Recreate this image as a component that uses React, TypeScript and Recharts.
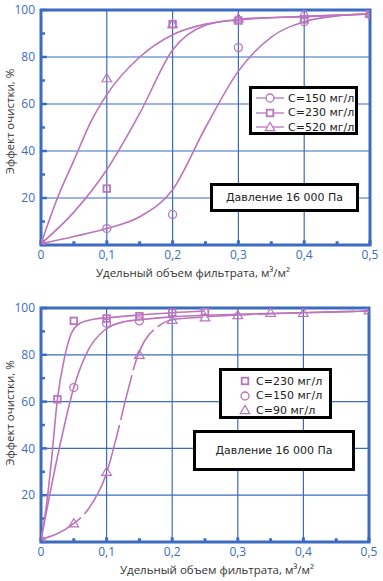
import React from 'react';
import { ComposedChart, Line, Scatter, XAxis, YAxis, CartesianGrid, ReferenceArea, ReferenceLine } from 'recharts';

const PURPLE = '#bb74bd';
const BLUE = '#3b6cc0';
const FONT = '"Open Sans", "DejaVu Sans", sans-serif';
const BOX_FONT = '"DejaVu Sans", sans-serif';

const xTicks = [0, 0.1, 0.2, 0.3, 0.4, 0.5];
const yTicks = [0, 20, 40, 60, 80, 100];
const xMinor = [0.05, 0.15, 0.25, 0.35, 0.45];
const yMinor = [10, 30, 50, 70, 90];

const xTitle = 'Удельный объем фильтрата, м³/м²';
const yTitle = 'Эффект очистки, %';
const pressureText = 'Давление 16 000 Па';

// ---- top panel ----
const topLegend = ['C=150 мг/л', 'C=230 мг/л', 'C=520 мг/л'];
const topC150Curve = [
  { x: 0, y: 0.5 }, { x: 0.05, y: 3.6 }, { x: 0.1, y: 7 }, { x: 0.15, y: 12 }, { x: 0.2, y: 23.5 },
  { x: 0.25, y: 50 }, { x: 0.3, y: 74 }, { x: 0.35, y: 88.5 }, { x: 0.4, y: 95 }, { x: 0.45, y: 97.5 }, { x: 0.5, y: 98.3 },
];
const topC230Curve = [
  { x: 0, y: 0.5 }, { x: 0.05, y: 14 }, { x: 0.1, y: 32 }, { x: 0.15, y: 56 }, { x: 0.2, y: 83 },
  { x: 0.25, y: 93.5 }, { x: 0.3, y: 96 }, { x: 0.35, y: 96.8 }, { x: 0.4, y: 97.3 }, { x: 0.5, y: 98.3 },
];
const topC520Curve = [
  { x: 0, y: 0.5 }, { x: 0.025, y: 20 }, { x: 0.05, y: 36 }, { x: 0.075, y: 52 }, { x: 0.1, y: 64 },
  { x: 0.15, y: 80 }, { x: 0.2, y: 89.5 }, { x: 0.25, y: 94 }, { x: 0.3, y: 95.8 }, { x: 0.4, y: 97.2 }, { x: 0.5, y: 98.3 },
];
const topC150Points = [
  { x: 0, y: 0.5 }, { x: 0.1, y: 7 }, { x: 0.2, y: 13 }, { x: 0.3, y: 84 }, { x: 0.4, y: 95 }, { x: 0.5, y: 98 },
];
const topC230Points = [
  { x: 0, y: 0.5 }, { x: 0.1, y: 24 }, { x: 0.2, y: 94 }, { x: 0.3, y: 95.5 }, { x: 0.4, y: 96 }, { x: 0.5, y: 98.5 },
];
const topC520Points = [
  { x: 0, y: 0.5 }, { x: 0.1, y: 71 }, { x: 0.2, y: 94 }, { x: 0.3, y: 96.5 }, { x: 0.4, y: 98.5 }, { x: 0.5, y: 98.5 },
];

// ---- bottom panel ----
const bottomLegend = ['C=230 мг/л', 'C=150 мг/л', 'C=90 мг/л'];
const botC230Curve = [
  { x: 0, y: 1 }, { x: 0.008, y: 15 }, { x: 0.016, y: 35 }, { x: 0.025, y: 61 }, { x: 0.036, y: 79 },
  { x: 0.046, y: 89 }, { x: 0.06, y: 93.6 }, { x: 0.08, y: 95.2 }, { x: 0.1, y: 95.8 }, { x: 0.15, y: 97 },
  { x: 0.2, y: 98 }, { x: 0.25, y: 98.7 },
];
const botC150Curve = [
  { x: 0, y: 1 }, { x: 0.016, y: 24 }, { x: 0.031, y: 44 }, { x: 0.05, y: 66 }, { x: 0.072, y: 82 },
  { x: 0.097, y: 90.6 }, { x: 0.128, y: 94.2 }, { x: 0.15, y: 95 }, { x: 0.2, y: 96.2 }, { x: 0.3, y: 97.3 },
  { x: 0.4, y: 98 }, { x: 0.5, y: 98.7 },
];
const botC90Curve = [
  { x: 0, y: 1 }, { x: 0.049, y: 7.7 }, { x: 0.072, y: 14 }, { x: 0.1, y: 29.5 }, { x: 0.117, y: 47 },
  { x: 0.13, y: 62 }, { x: 0.148, y: 80 }, { x: 0.158, y: 86 }, { x: 0.178, y: 92 }, { x: 0.2, y: 95 },
  { x: 0.25, y: 96.2 }, { x: 0.3, y: 97 }, { x: 0.4, y: 98 }, { x: 0.5, y: 98.7 },
];
const botC230Points = [
  { x: 0.025, y: 61 }, { x: 0.05, y: 94.5 }, { x: 0.1, y: 95.5 }, { x: 0.15, y: 96.5 }, { x: 0.2, y: 98 }, { x: 0.25, y: 98.5 },
];
const botC150Points = [
  { x: 0, y: 0.5 }, { x: 0.05, y: 66 }, { x: 0.1, y: 93.5 }, { x: 0.15, y: 94.5 },
];
const botC90Points = [
  { x: 0, y: 0.5 }, { x: 0.05, y: 8 }, { x: 0.1, y: 30 }, { x: 0.15, y: 80 }, { x: 0.2, y: 95 }, { x: 0.25, y: 96 },
  { x: 0.3, y: 97 }, { x: 0.35, y: 98 }, { x: 0.4, y: 98 }, { x: 0.5, y: 99 },
];

const fmtX = (v: number) => String(v).replace('.', ',');
const fmtY = (v: number) => (v === 0 ? '' : String(v));

const CircleShape = (p: any) => (
  <circle cx={p.cx} cy={p.cy} r={4} fill="none" stroke={PURPLE} strokeWidth={1.3} />
);
const SquareShape = (p: any) => (
  <rect x={p.cx - 3.3} y={p.cy - 3.3} width={6.6} height={6.6} fill="none" stroke={PURPLE} strokeWidth={1.8} />
);
const TriangleShape = (p: any) => (
  <path
    d={`M${p.cx},${p.cy - 4.6} L${p.cx + 4.8},${p.cy + 3.6} L${p.cx - 4.8},${p.cy + 3.6} Z`}
    fill="none"
    stroke={PURPLE}
    strokeWidth={1.2}
  />
);

const markerSvg = (kind: string, withLine: boolean) => {
  const c = withLine ? 14 : 6;
  return (
    <svg width={withLine ? 28 : 12} height={12} style={{ display: 'block', flex: 'none' }}>
      {withLine && <line x1={0} y1={6} x2={28} y2={6} stroke={PURPLE} strokeWidth={1.3} />}
      {kind === 'circle' && <circle cx={c} cy={6} r={4} fill="#fff" stroke={PURPLE} strokeWidth={1.3} />}
      {kind === 'square' && (
        <rect x={c - 3.3} y={2.7} width={6.6} height={6.6} fill="#fff" stroke={PURPLE} strokeWidth={1.8} />
      )}
      {kind === 'triangle' && (
        <path d={`M${c},1.4 L${c + 4.8},9.6 L${c - 4.8},9.6 Z`} fill="#fff" stroke={PURPLE} strokeWidth={1.2} />
      )}
    </svg>
  );
};

type PanelProps = {
  height: number;
  marginTop: number;
  marginRight: number;
  xAxisHeight: number;
  xTitleX: number;
  yTitleDy: number;
  children: React.ReactNode;
};

const Panel = ({ height, marginTop, marginRight, xAxisHeight, xTitleX, yTitleDy, children }: PanelProps) => (
  <ComposedChart width={383} height={height} margin={{ top: marginTop, right: marginRight, left: 0, bottom: 0 }}>
    <CartesianGrid stroke={BLUE} strokeWidth={1.2} horizontalValues={yTicks} verticalValues={xTicks} />
    <XAxis
      type="number"
      dataKey="x"
      domain={[0, 0.5]}
      ticks={xTicks}
      tickFormatter={fmtX}
      height={xAxisHeight}
      axisLine={false}
      tickLine={false}
      tickSize={0}
      tickMargin={5}
      tick={{ fill: BLUE, fontSize: 12, fontFamily: FONT }}
      allowDataOverflow
      label={(props: any) => {
        const vb = props.viewBox || {};
        return (
          <text x={xTitleX} y={(vb.y ?? 0) + 32} textAnchor="middle" fill="#333" fontSize={11.5} fontFamily={FONT}>
            {xTitle}
          </text>
        );
      }}
    />
    <YAxis
      type="number"
      dataKey="y"
      domain={[0, 100]}
      ticks={yTicks}
      tickFormatter={fmtY}
      width={41}
      axisLine={false}
      tickLine={false}
      tickSize={0}
      tickMargin={6}
      tick={{ fill: BLUE, fontSize: 12, fontFamily: FONT }}
      allowDataOverflow
      label={(props: any) => {
        const vb = props.viewBox || {};
        const cy = (vb.y ?? 0) + (vb.height ?? 0) / 2 + yTitleDy;
        return (
          <text
            x={14}
            y={cy}
            transform={`rotate(-90, 14, ${cy})`}
            textAnchor="middle"
            fill="#333"
            fontSize={11.5}
            fontFamily={FONT}
          >
            {yTitle}
          </text>
        );
      }}
    />
    {xMinor.map((v) => (
      <ReferenceLine key={'xm' + v} segment={[{ x: v, y: 0 }, { x: v, y: 1.6 }]} stroke={BLUE} strokeWidth={3} />
    ))}
    {xTicks.map((v) => (
      <ReferenceLine key={'xj' + v} segment={[{ x: v, y: 0 }, { x: v, y: 2 }]} stroke={BLUE} strokeWidth={3} />
    ))}
    {yMinor.map((v) => (
      <ReferenceLine key={'ym' + v} segment={[{ x: 0, y: v }, { x: 0.006, y: v }]} stroke={BLUE} strokeWidth={2.5} />
    ))}
    {yTicks.map((v) => (
      <ReferenceLine key={'yj' + v} segment={[{ x: 0, y: v }, { x: 0.009, y: v }]} stroke={BLUE} strokeWidth={2.5} />
    ))}
    <ReferenceArea x1={0} x2={0.5} y1={0} y2={100} fill="none" stroke={BLUE} strokeWidth={3} fillOpacity={0} />
    {children}
  </ComposedChart>
);

const boxStyle: React.CSSProperties = {
  position: 'absolute',
  border: '3px solid #000',
  background: '#fff',
  boxSizing: 'border-box',
  fontFamily: BOX_FONT,
  color: '#222',
};

const rowStyle: React.CSSProperties = {
  display: 'flex',
  alignItems: 'center',
  height: 14.5,
  whiteSpace: 'nowrap',
};

export default function App() {
  return (
    <div style={{ position: 'absolute', left: 0, top: 0, width: 383, height: 581, background: '#fff' }}>
      <div style={{ position: 'absolute', left: 0, top: 0 }}>
        <Panel height={290} marginTop={10} marginRight={13} xAxisHeight={45} xTitleX={193} yTitleDy={-6}>
          <Line data={topC150Curve} dataKey="y" type="monotone" stroke={PURPLE} strokeWidth={1.6} dot={false} isAnimationActive={false} />
          <Line data={topC230Curve} dataKey="y" type="monotone" stroke={PURPLE} strokeWidth={1.6} dot={false} isAnimationActive={false} />
          <Line data={topC520Curve} dataKey="y" type="monotone" stroke={PURPLE} strokeWidth={1.6} dot={false} isAnimationActive={false} />
          <Scatter data={topC150Points} dataKey="y" shape={CircleShape} isAnimationActive={false} />
          <Scatter data={topC230Points} dataKey="y" shape={SquareShape} isAnimationActive={false} />
          <Scatter data={topC520Points} dataKey="y" shape={TriangleShape} isAnimationActive={false} />
        </Panel>
      </div>
      <div style={{ position: 'absolute', left: 0, top: 290 }}>
        <Panel height={291} marginTop={18} marginRight={14} xAxisHeight={39} xTitleX={217} yTitleDy={-12}>
          <Line data={botC230Curve} dataKey="y" type="monotone" stroke={PURPLE} strokeWidth={1.6} dot={false} isAnimationActive={false} />
          <Line data={botC150Curve} dataKey="y" type="monotone" stroke={PURPLE} strokeWidth={1.6} dot={false} isAnimationActive={false} />
          <Line data={botC90Curve} dataKey="y" type="monotone" stroke={PURPLE} strokeWidth={1.6} strokeDasharray="46 5" dot={false} isAnimationActive={false} />
          <Scatter data={botC230Points} dataKey="y" shape={SquareShape} isAnimationActive={false} />
          <Scatter data={botC150Points} dataKey="y" shape={CircleShape} isAnimationActive={false} />
          <Scatter data={botC90Points} dataKey="y" shape={TriangleShape} isAnimationActive={false} />
        </Panel>
      </div>

      {/* top legend */}
      <div style={{ ...boxStyle, left: 249, top: 86, width: 109, height: 49, padding: '2px 0 0 4px', fontSize: 11 }}>
        {topLegend.map((t, i) => (
          <div key={t} style={rowStyle}>
            {markerSvg(['circle', 'square', 'triangle'][i], true)}
            <span style={{ marginLeft: 4, lineHeight: '13px' }}>{t}</span>
          </div>
        ))}
      </div>
      <div style={{ ...boxStyle, left: 210, top: 183, width: 149, height: 29, fontSize: 11, display: 'flex', alignItems: 'center', justifyContent: 'center' }}>
        {pressureText}
      </div>

      {/* bottom legend */}
      <div style={{ ...boxStyle, left: 219, top: 368, width: 113, height: 51, padding: '3px 0 0 17px', fontSize: 11 }}>
        {bottomLegend.map((t, i) => (
          <div key={t} style={rowStyle}>
            {markerSvg(['square', 'circle', 'triangle'][i], false)}
            <span style={{ marginLeft: 5, lineHeight: '13px' }}>{t}</span>
          </div>
        ))}
      </div>
      <div style={{ ...boxStyle, left: 193, top: 430, width: 162, height: 41, fontSize: 11, display: 'flex', alignItems: 'center', justifyContent: 'center' }}>
        {pressureText}
      </div>
    </div>
  );
}
